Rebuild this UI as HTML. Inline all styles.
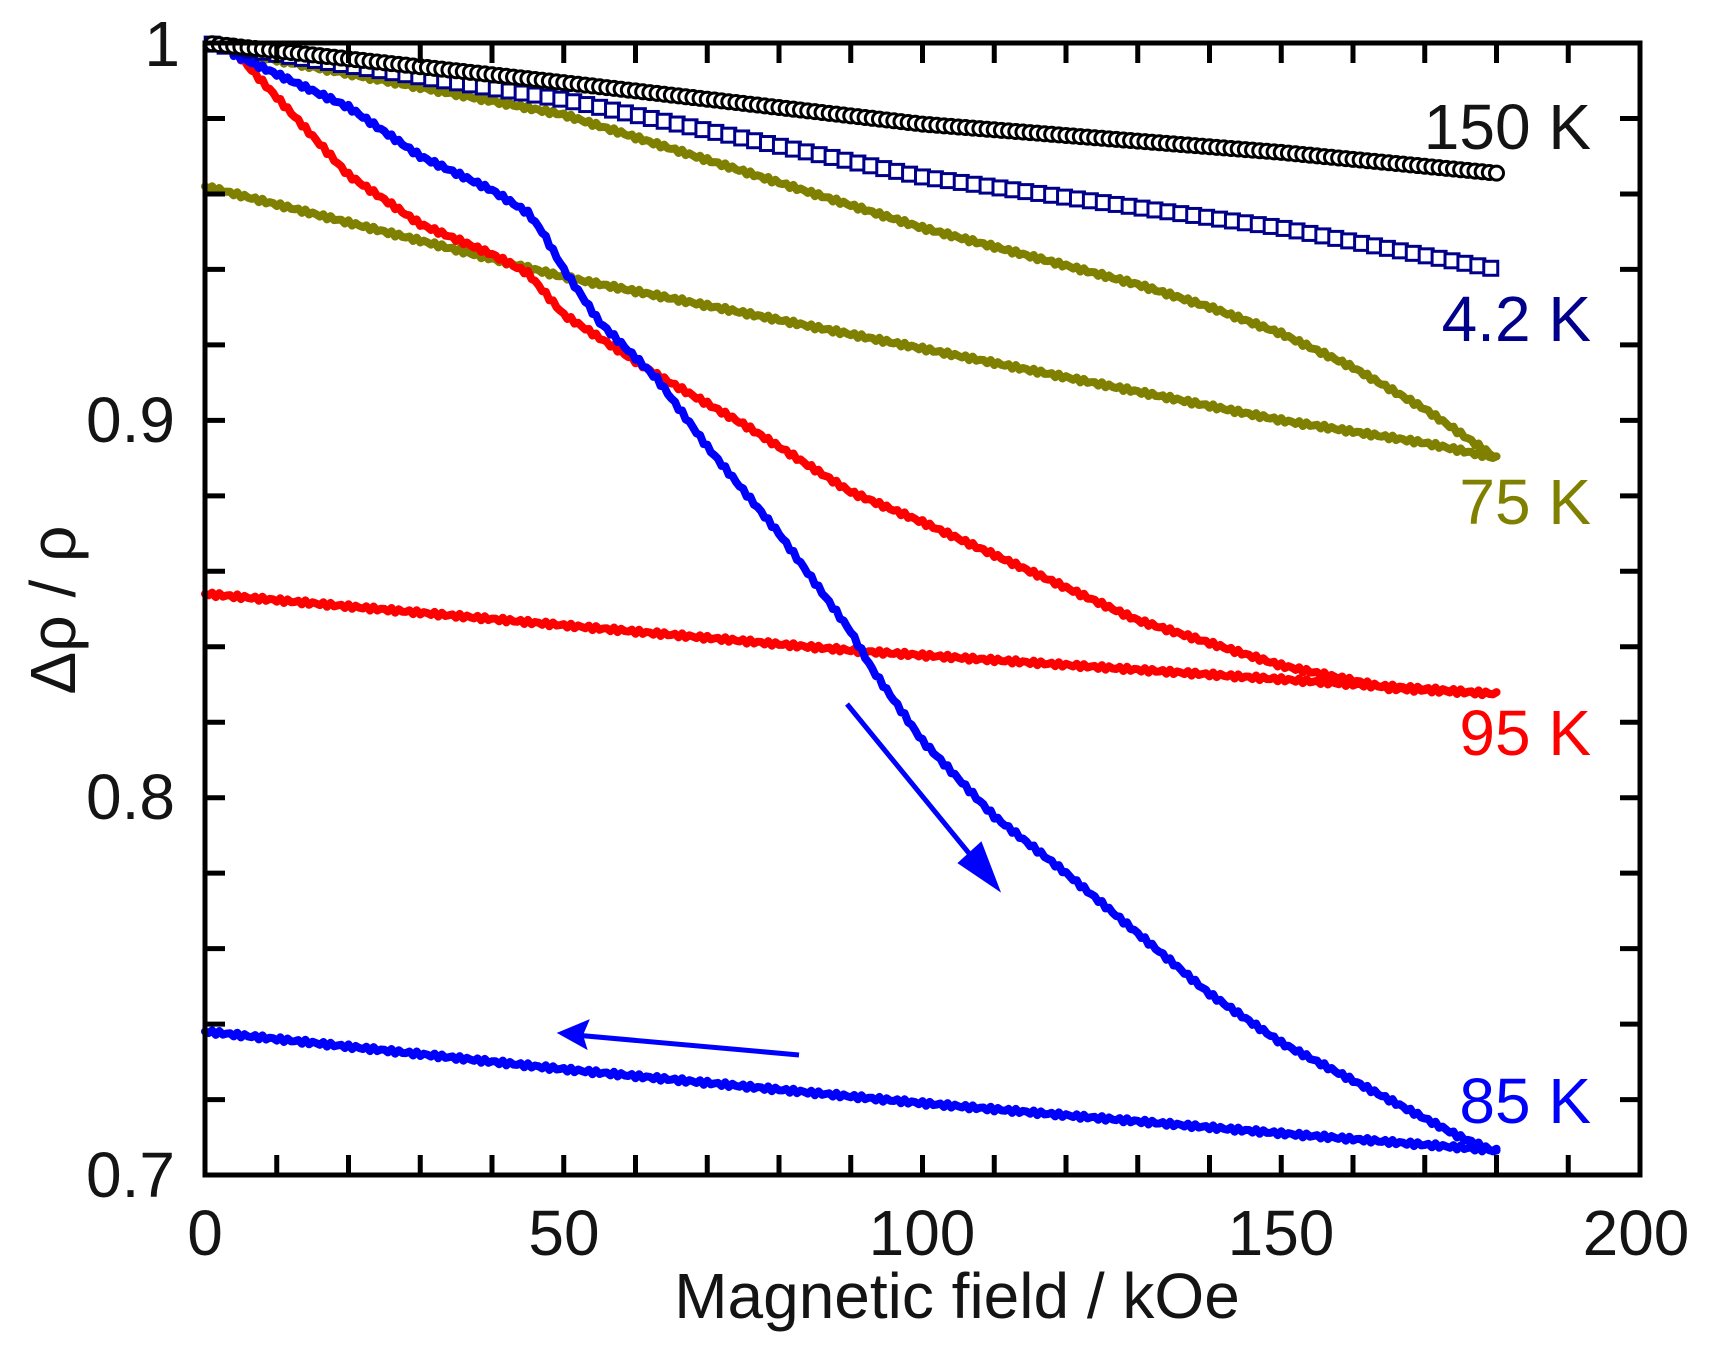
<!DOCTYPE html>
<html><head><meta charset="utf-8"><style>
html,body{margin:0;padding:0;background:#fff;}
svg{display:block;}
text{font-family:"Liberation Sans",Arial,sans-serif;}
</style></head><body>
<svg id="s" width="1709" height="1348" viewBox="0 0 1709 1348" xmlns="http://www.w3.org/2000/svg">
<g id="data"></g>
<g id="axes"></g>
<g font-size="64" fill="#141414">
<text x="175" y="442" text-anchor="end">0.9</text>
<text x="175" y="819" text-anchor="end">0.8</text>
<text x="175" y="1197" text-anchor="end">0.7</text>
<text x="180" y="66" text-anchor="end">1</text>
<text x="205" y="1255" text-anchor="middle">0</text>
<text x="564" y="1255" text-anchor="middle">50</text>
<text x="922" y="1255" text-anchor="middle">100</text>
<text x="1281" y="1255" text-anchor="middle">150</text>
<text x="1636" y="1255" text-anchor="middle">200</text>
<text x="957" y="1318" text-anchor="middle">Magnetic field / kOe</text>
<text transform="translate(75,610) rotate(-90)" text-anchor="middle">Δρ / ρ</text>
<text x="1591" y="149" text-anchor="end">150 K</text>
<text x="1591" y="341" text-anchor="end" fill="#00008b">4.2 K</text>
<text x="1591" y="524" text-anchor="end" fill="#808000">75 K</text>
<text x="1591" y="755" text-anchor="end" fill="#ff0000">95 K</text>
<text x="1591" y="1123" text-anchor="end" fill="#0000ff">85 K</text>
</g>
<g stroke="#0000ff" stroke-width="5" fill="#0000ff">
<line x1="847" y1="704" x2="990" y2="879"/>
<polygon points="999,890 959,863 981,843" stroke="#0000ff" stroke-width="2"/>
<line x1="799" y1="1055" x2="575" y2="1035"/>
<polygon points="559,1033 588,1021 582,1035 586,1048" stroke="#0000ff" stroke-width="2"/>
</g>
</svg>
<script>
var NS="http://www.w3.org/2000/svg";
function X(x){return 205+7.175*x;}
function Y(y){return 3816-3773*y;}
function interp(pts,x){for(var i=0;i<pts.length-1;i++){if(x<=pts[i+1][0]){var t=(x-pts[i][0])/(pts[i+1][0]-pts[i][0]);return pts[i][1]+t*(pts[i+1][1]-pts[i][1]);}}return pts[pts.length-1][1];}
function path(pts,color,x0,x1){var d="";var n=0;for(var x=x0;x<=x1;x+=0.5){var y=interp(pts,x)+(Math.sin(x*7.3)*0.0006);d+=(n++?"L":"M")+X(x).toFixed(1)+" "+Y(y).toFixed(1);}
var p=document.createElementNS(NS,"path");p.setAttribute("d",d);p.setAttribute("stroke",color);p.setAttribute("stroke-width","8");p.setAttribute("fill","none");p.setAttribute("stroke-linejoin","round");p.setAttribute("stroke-linecap","round");document.getElementById("data").appendChild(p);}
var g=document.getElementById("data");
path([[3,0.998],[50,0.981],[100,0.951],[130,0.936],[140,0.930],[150,0.923],[160,0.914],[170,0.903],[180,0.890]],"#808000",3,180);
path([[0,0.962],[50,0.938],[100,0.919],[150,0.900],[170,0.894],[180,0.890]],"#808000",0,180);
path([[4,0.998],[20,0.965],[30,0.952],[40,0.944],[45,0.939],[50,0.928],[63,0.912],[75,0.899],[90,0.881],[100,0.873],[115,0.860],[130,0.847],[150,0.835],[165,0.829],[180,0.8275]],"#ff0000",4,180);
path([[0,0.854],[90,0.839],[180,0.8275]],"#ff0000",0,180);
path([[4,0.997],[20,0.983],[30,0.970],[40,0.961],[45,0.955],[47,0.950],[50,0.940],[55,0.926],[63,0.911],[70,0.893],[80,0.870],[90,0.844],[93,0.834],[100,0.815],[110,0.795],[120,0.780],[130,0.764],[140,0.748],[150,0.735],[160,0.725],[170,0.715],[175,0.710],[180,0.706]],"#0000ff",4,180);
path([[0,0.738],[50,0.728],[100,0.719],[150,0.711],[180,0.7065]],"#0000ff",0,180);
for(var x=1;x<=180;x+=1.8){var y=interp([[0,1],[50,0.985],[100,0.9645],[150,0.951],[180,0.940]],x);var r=document.createElementNS(NS,"rect");r.setAttribute("x",X(x)-7);r.setAttribute("y",Y(y)-7);r.setAttribute("width",14);r.setAttribute("height",14);r.setAttribute("fill","#fff");r.setAttribute("stroke","#00008b");r.setAttribute("stroke-width","3");g.appendChild(r);}
for(var x=1;x<=180;x+=1){var y=interp([[0,1.0],[50,0.9895],[100,0.9785],[150,0.971],[180,0.9655]],x);var c=document.createElementNS(NS,"circle");c.setAttribute("cx",X(x));c.setAttribute("cy",Y(y));c.setAttribute("r",7);c.setAttribute("fill","#fff");c.setAttribute("stroke","#000");c.setAttribute("stroke-width","3");g.appendChild(c);}
var a=document.getElementById("axes");
function ln(x1,y1,x2,y2,w){var l=document.createElementNS(NS,"line");l.setAttribute("x1",x1);l.setAttribute("y1",y1);l.setAttribute("x2",x2);l.setAttribute("y2",y2);l.setAttribute("stroke","#000");l.setAttribute("stroke-width",w);a.appendChild(l);}
for(var k=1;k<20;k++){var px=X(k*10);ln(px,1175,px,1155,5);ln(px,43,px,63,5);}
for(var k=1;k<15;k++){var py=43+k*75.47;ln(205,py,225,py,5);ln(1640,py,1620,py,5);}
var r=document.createElementNS(NS,"rect");r.setAttribute("x",205);r.setAttribute("y",43);r.setAttribute("width",1435);r.setAttribute("height",1132);r.setAttribute("fill","none");r.setAttribute("stroke","#000");r.setAttribute("stroke-width","5");a.appendChild(r);
</script>
</body></html>
